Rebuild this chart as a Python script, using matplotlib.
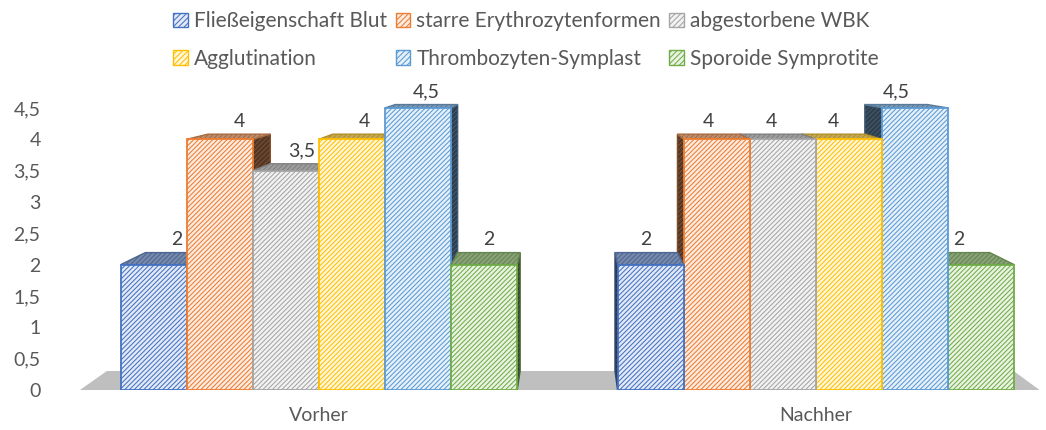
import numpy as np
import matplotlib.pyplot as plt
from matplotlib.patches import Polygon, Patch
from matplotlib import colors as mcolors

plt.rcParams['font.family'] = ['Lato', 'DejaVu Sans']
plt.rcParams['hatch.linewidth'] = 0.75

# Daten
gruppen = ['Vorher', 'Nachher']
serien = ['Fließeigenschaft Blut', 'starre Erythrozytenformen', 'abgestorbene WBK',
          'Agglutination', 'Thrombozyten-Symplast', 'Sporoide Symprotite']
vorher = [2, 4, 3.5, 4, 4.5, 2]
nachher = [2, 4, 4, 4, 4.5, 2]
farben = ['#4472C4', '#ED7D31', '#A5A5A5', '#FFC000', '#5B9BD5', '#70AD47']
yticks = [0, 0.5, 1, 1.5, 2, 2.5, 3, 3.5, 4, 4.5]

werte = [vorher, nachher]
textfarbe = '#595959'
hatch = '/' * 7

# einfache Perspektive (Fluchtpunkt in Datenkoordinaten)
k = 0.055
vx, vy = 0.505, 5.5
breite = 0.133


def hinten(x, y):
    return (x + k * (vx - x), y + k * (vy - y))


def mix(c, other, t):
    a = np.array(mcolors.to_rgb(c))
    b = np.array(mcolors.to_rgb(other))
    return tuple(a * (1 - t) + b * t)


fig = plt.figure(figsize=(10.46, 4.30), dpi=100)
ax = fig.add_axes([60 / 1046, 40 / 430, 986 / 1046, 5.2 * 62.67 / 430])
ax.set_xlim(-0.521, 1.463)
ax.set_ylim(0, 5.2)

# Boden
xl, xr = -0.481, 1.45
boden = [(xl, 0), (xr, 0), hinten(xr, 0), hinten(xl, 0)]
ax.add_patch(Polygon(boden, closed=True, facecolor='#BFBFBF', edgecolor='none', zorder=1))

balken = []
for gi, vals in enumerate(werte):
    for j, h in enumerate(vals):
        x0 = gi + (j - 3) * breite
        balken.append((x0, x0 + breite, h, farben[j]))

# von außen nach innen zeichnen
balken.sort(key=lambda b: -abs((b[0] + b[1]) / 2 - vx))

z = 2
for x0, x1, h, c in balken:
    # Seitenfläche
    if x1 < vx:
        seite = [(x1, 0), (x1, h), hinten(x1, h), hinten(x1, 0)]
    else:
        seite = [(x0, 0), (x0, h), hinten(x0, h), hinten(x0, 0)]
    ax.add_patch(Polygon(seite, closed=True, facecolor=mix(c, '#262626', 0.8),
                         edgecolor=mix(c, '#262626', 0.55), hatch=hatch, lw=1, zorder=z))
    # Deckfläche
    deck = [(x0, h), (x1, h), hinten(x1, h), hinten(x0, h)]
    ax.add_patch(Polygon(deck, closed=True, facecolor=mix(c, '#9a9a9a', 0.6),
                         edgecolor=mix(c, '#555555', 0.45), hatch=hatch, lw=1, zorder=z))
    # Vorderseite
    ax.add_patch(Polygon([(x0, 0), (x1, 0), (x1, h), (x0, h)], closed=True,
                         facecolor=mix(c, 'white', 0.85), edgecolor=c, hatch=hatch,
                         lw=1.3, zorder=z))
    z += 1
    bx, by = hinten((x0 + x1) / 2, h)
    ax.annotate(f'{h:g}'.replace('.', ','), (bx, by), xytext=(0, 3),
                textcoords='offset points', ha='center', va='bottom',
                fontsize=14, color='#404040', zorder=50)

ax.set_yticks(yticks)
ax.set_yticklabels([f'{t:g}'.replace('.', ',') for t in yticks])
ax.set_xticks([0, 1])
ax.set_xticklabels(gruppen)
ax.tick_params(axis='y', length=0, pad=14, labelsize=14, labelcolor=textfarbe)
ax.tick_params(axis='x', length=0, pad=12, labelsize=14, labelcolor=textfarbe)
for s in ax.spines.values():
    s.set_visible(False)
ax.patch.set_alpha(0)

# Legende (spaltenweise sortiert, damit Zeilen wie im Original)
handles = [Patch(facecolor=mix(c, 'white', 0.85), edgecolor=c, hatch='/' * 6, label=l)
           for c, l in zip(farben, serien)]
reihenfolge = [0, 3, 1, 4, 2, 5]
fig.legend([handles[i] for i in reihenfolge], [serien[i] for i in reihenfolge],
           ncol=3, loc='center', bbox_to_anchor=(526 / 1046, 1 - 40 / 430),
           frameon=False, fontsize=15, labelcolor=textfarbe,
           handlelength=0.7, handleheight=0.7, handletextpad=0.3,
           columnspacing=0.4, labelspacing=0.85)

fig.savefig('out.png', dpi=100)
